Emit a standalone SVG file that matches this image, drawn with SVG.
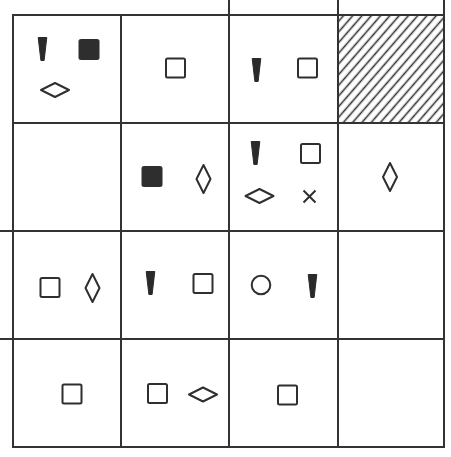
<svg xmlns="http://www.w3.org/2000/svg" xmlns:xlink="http://www.w3.org/1999/xlink" width="451" height="457" viewBox="0 0 451 457">
<style>
.grid{stroke:#333;stroke-width:2;fill:none;stroke-linecap:square}
.osq{fill:none;stroke:#2f2f2f;stroke-width:2}
.fsq{fill:#2e2e2e;stroke:#2e2e2e;stroke-width:1}
.dia{fill:none;stroke:#2f2f2f;stroke-width:2;stroke-linejoin:round}
.wedge{fill:#2a2a2a;stroke:#2a2a2a;stroke-width:1;stroke-linejoin:round}
.x{stroke:#2f2f2f;stroke-width:2;fill:none}
</style>
<defs>
<path id="wedge" class="wedge" d="M-4.3,0.5 L4.3,0.5 L1.6,23.5 L-1.6,23.5 Z"/>
<rect id="osq" class="osq" x="-9.5" y="-9.5" width="19" height="19" rx="1.5"/>
<rect id="fsq" class="fsq" x="-10" y="-10" width="20" height="20" rx="1.5"/>
<path id="hdia" class="dia" d="M-14,0 L0,-7 L14,0 L0,7 Z"/>
<path id="vdia" class="dia" d="M0,-14 L7,0 L0,14 L-7,0 Z"/>
<pattern id="hatch" patternUnits="userSpaceOnUse" width="7" height="20" patternTransform="rotate(41)">
<line x1="3.5" y1="-1" x2="3.5" y2="21" stroke="#333" stroke-width="1.6"/>
</pattern>
</defs>
<rect width="451" height="457" fill="#fff"/>
<g id="cell-r0c3-hatched">
<rect x="338" y="15" width="106" height="108" fill="url(#hatch)"/>
</g>
<g id="grid" class="grid">
<rect x="13" y="15" width="431" height="432"/>
<line x1="121" y1="15" x2="121" y2="447"/>
<line x1="229" y1="0" x2="229" y2="447"/>
<line x1="338" y1="0" x2="338" y2="447"/>
<line x1="444" y1="0" x2="444" y2="15"/>
<line x1="13" y1="123" x2="444" y2="123"/>
<line x1="0" y1="231" x2="444" y2="231"/>
<line x1="0" y1="339" x2="444" y2="339"/>
</g>
<g id="cell-r0c0">
<use xlink:href="#wedge" x="42.5" y="37"/>
<use xlink:href="#fsq" x="89" y="49.5"/>
<use xlink:href="#hdia" x="55" y="90"/>
</g>
<g id="cell-r0c1">
<use xlink:href="#osq" x="175.5" y="68"/>
</g>
<g id="cell-r0c2">
<use xlink:href="#wedge" x="256.5" y="58"/>
<use xlink:href="#osq" x="307.5" y="68"/>
</g>
<g id="cell-r1c0"></g>
<g id="cell-r1c1">
<use xlink:href="#fsq" x="152" y="176.5"/>
<use xlink:href="#vdia" x="203.5" y="179"/>
</g>
<g id="cell-r1c2">
<use xlink:href="#wedge" x="255.5" y="141"/>
<use xlink:href="#osq" x="310.5" y="153.5"/>
<use xlink:href="#hdia" x="259.5" y="196"/>
<path class="x" d="M303.5,190.5 L315.5,202.5 M315.5,190.5 L303.5,202.5"/>
</g>
<g id="cell-r1c3">
<use xlink:href="#vdia" x="390" y="177"/>
</g>
<g id="cell-r2c0">
<use xlink:href="#osq" x="50" y="287.5"/>
<use xlink:href="#vdia" x="92.5" y="288"/>
</g>
<g id="cell-r2c1">
<use xlink:href="#wedge" x="150.5" y="271"/>
<use xlink:href="#osq" x="203" y="283.5"/>
</g>
<g id="cell-r2c2">
<circle cx="261" cy="285" r="9.3" class="osq"/>
<use xlink:href="#wedge" x="312.5" y="274"/>
</g>
<g id="cell-r2c3"></g>
<g id="cell-r3c0">
<use xlink:href="#osq" x="72" y="394"/>
</g>
<g id="cell-r3c1">
<use xlink:href="#osq" x="157.5" y="393.5"/>
<use xlink:href="#hdia" x="203" y="394.5"/>
</g>
<g id="cell-r3c2">
<use xlink:href="#osq" x="287.5" y="395"/>
</g>
<g id="cell-r3c3"></g>
</svg>
